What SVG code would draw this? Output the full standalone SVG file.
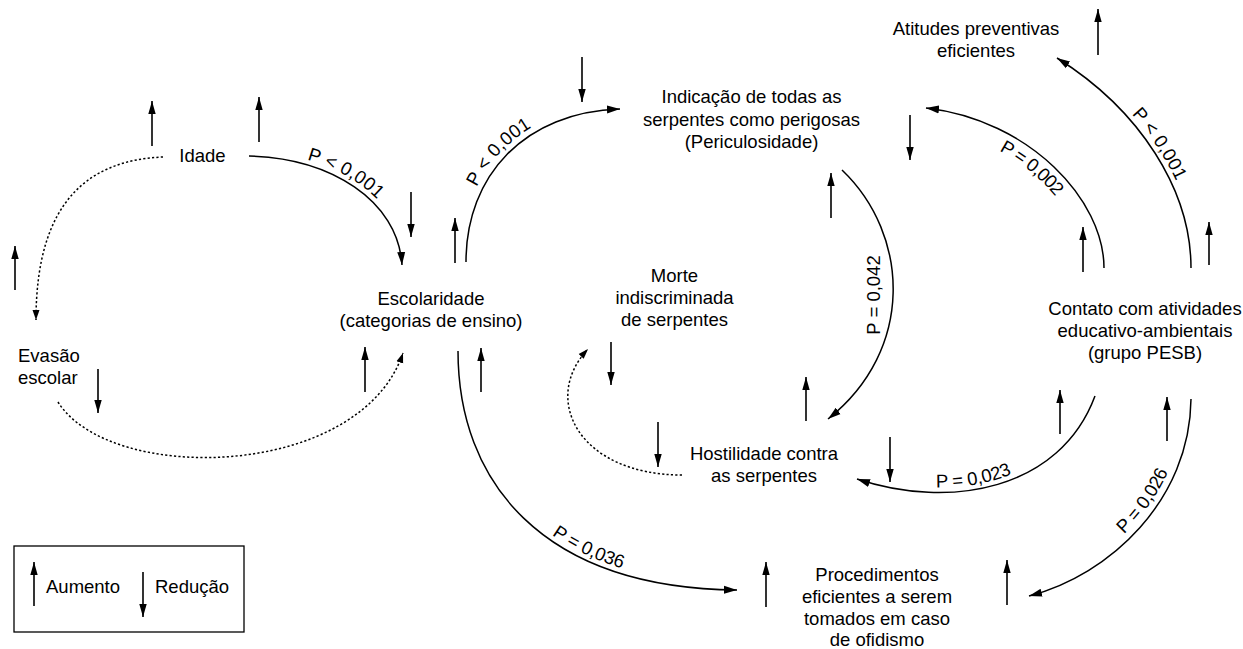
<svg xmlns="http://www.w3.org/2000/svg" width="1243" height="649" viewBox="0 0 1243 649">
<style>
text{font-family:"Liberation Sans",Arial,sans-serif;font-size:18.5px;fill:#000}
.c{fill:none;stroke:#000;stroke-width:1.5}
.d{fill:none;stroke:#000;stroke-width:1.5;stroke-dasharray:2.2 2.2}
.i{stroke:#000;stroke-width:1.6;marker-end:url(#ia)}
.m{text-anchor:middle}
</style>
<defs>
<marker id="ah" markerUnits="userSpaceOnUse" markerWidth="14" markerHeight="10" refX="13" refY="5" orient="auto"><path d="M0,1 L13,5 L0,9 z" fill="#000"/></marker>
<marker id="as" markerUnits="userSpaceOnUse" markerWidth="11" markerHeight="8" refX="10" refY="4" orient="auto"><path d="M0,0.5 L10,4 L0,7.5 z" fill="#000"/></marker>
<marker id="ia" markerUnits="userSpaceOnUse" markerWidth="14" markerHeight="10" refX="13" refY="5" orient="auto"><path d="M0,1.3 L13,5 L0,8.7 z" fill="#000"/></marker>
<path id="pA" d="M249,156 C 330,158 398,200 402,265"/>
<path id="pB" d="M466,262 C 466,175 525,112 620,109"/>
<path id="pE" d="M458,351 C 458,480 540,588 737,590"/>
<path id="pF" d="M842,170 C 910,235 915,350 828,419"/>
<path id="pG" d="M1104,268 C 1104,200 1030,120 926,108"/>
<path id="pH" d="M1191,268 C 1191,190 1140,110 1057,58"/>
<path id="pI" d="M1095,396 C 1060,490 950,510 857,479"/>
<path id="pJ" d="M1191,399 C 1190,500 1110,575 1029,596"/>
<path id="rG" d="M926,108 C 1030,120 1104,200 1104,268"/>
<path id="rH" d="M1057,58 C 1140,110 1191,190 1191,268"/>
<path id="rI" d="M857,479 C 950,510 1060,490 1095,396"/>
<path id="rJ" d="M1029,596 C 1110,575 1190,500 1191,399"/>
</defs>
<rect width="1243" height="649" fill="#fff"/>

<g id="connectors">
<use href="#pA" class="c" marker-end="url(#ah)"/>
<use href="#pB" class="c" marker-end="url(#ah)"/>
<use href="#pE" class="c" marker-end="url(#ah)"/>
<use href="#pF" class="c" marker-end="url(#ah)"/>
<use href="#pG" class="c" marker-end="url(#ah)"/>
<use href="#pH" class="c" marker-end="url(#ah)"/>
<use href="#pI" class="c" marker-end="url(#ah)"/>
<use href="#pJ" class="c" marker-end="url(#ah)"/>
<path class="d" d="M163,157 C 90,160 36,200 36,320" marker-end="url(#as)"/>
<path class="d" d="M58,402 C 110,485 360,480 403,353" marker-end="url(#as)"/>
<path class="d" d="M682,475 C 580,475 540,400 588,349" marker-end="url(#as)"/>
<text><textPath href="#pA" startOffset="47%" text-anchor="middle"><tspan dy="-5">P &lt; 0,001</tspan></textPath></text>
<text><textPath href="#pB" startOffset="47%" text-anchor="middle"><tspan dy="-6">P &lt; 0,001</tspan></textPath></text>
<text><textPath href="#pE" startOffset="62%" text-anchor="middle"><tspan dy="-5">P = 0,036</tspan></textPath></text>
<text class="m" transform="translate(880,295) rotate(-90)">P = 0,042</text>
<text><textPath href="#rG" startOffset="49%" text-anchor="middle"><tspan dy="19">P = 0,002</tspan></textPath></text>
<text><textPath href="#rH" startOffset="51%" text-anchor="middle"><tspan dy="-5">P &lt; 0,001</tspan></textPath></text>
<text><textPath href="#rI" startOffset="43%" text-anchor="middle"><tspan dy="-5">P = 0,023</tspan></textPath></text>
<text><textPath href="#rJ" startOffset="57%" text-anchor="middle"><tspan dy="-7">P = 0,026</tspan></textPath></text>
</g>

<g id="indicators">
<line class="i" x1="152" y1="146" x2="152" y2="101"/>
<line class="i" x1="259" y1="142" x2="259" y2="97"/>
<line class="i" x1="411" y1="192" x2="411" y2="237"/>
<line class="i" x1="455" y1="263" x2="455" y2="218"/>
<line class="i" x1="15" y1="290" x2="15" y2="246"/>
<line class="i" x1="98" y1="369" x2="98" y2="413"/>
<line class="i" x1="365" y1="392" x2="365" y2="347"/>
<line class="i" x1="582" y1="57" x2="582" y2="102"/>
<line class="i" x1="481" y1="392" x2="481" y2="348"/>
<line class="i" x1="831" y1="218" x2="831" y2="173"/>
<line class="i" x1="611" y1="342" x2="611" y2="385"/>
<line class="i" x1="806" y1="421" x2="806" y2="377"/>
<line class="i" x1="658" y1="422" x2="658" y2="467"/>
<line class="i" x1="910" y1="115" x2="910" y2="160"/>
<line class="i" x1="1098" y1="55" x2="1098" y2="9"/>
<line class="i" x1="1083" y1="272" x2="1083" y2="227"/>
<line class="i" x1="1209" y1="265" x2="1209" y2="222"/>
<line class="i" x1="1060" y1="434" x2="1060" y2="390"/>
<line class="i" x1="890" y1="437" x2="890" y2="482"/>
<line class="i" x1="1167" y1="441" x2="1167" y2="397"/>
<line class="i" x1="1007" y1="605" x2="1007" y2="560"/>
<line class="i" x1="766" y1="607" x2="766" y2="562"/>
</g>

<g id="idade"><text class="m" x="202.5" y="162">Idade</text></g>
<g id="evasao"><text x="18" y="362">Evasão</text><text x="18" y="384">escolar</text></g>
<g id="escolaridade"><text class="m" x="431" y="305">Escolaridade</text><text class="m" x="431" y="327">(categorias de ensino)</text></g>
<g id="morte"><text class="m" x="674.5" y="282">Morte</text><text class="m" x="674.5" y="304">indiscriminada</text><text class="m" x="674.5" y="326">de serpentes</text></g>
<g id="indicacao"><text class="m" x="751.5" y="103">Indicação de todas as</text><text class="m" x="751.5" y="125.5">serpentes como perigosas</text><text class="m" x="751.5" y="148">(Periculosidade)</text></g>
<g id="atitudes"><text class="m" x="976" y="35">Atitudes preventivas</text><text class="m" x="976" y="57">eficientes</text></g>
<g id="contato"><text class="m" x="1145" y="315">Contato com atividades</text><text class="m" x="1145" y="337">educativo-ambientais</text><text class="m" x="1145" y="359">(grupo PESB)</text></g>
<g id="hostilidade"><text class="m" x="764" y="460">Hostilidade contra</text><text class="m" x="764" y="482">as serpentes</text></g>
<g id="procedimentos"><text class="m" x="877" y="581">Procedimentos</text><text class="m" x="877" y="603">eficientes a serem</text><text class="m" x="877" y="625">tomados em caso</text><text class="m" x="877" y="646">de ofidismo</text></g>

<g id="legend">
<rect x="14" y="546" width="230" height="86" fill="none" stroke="#000" stroke-width="1.3"/>
<line class="i" x1="34" y1="606" x2="34" y2="562"/>
<text x="46" y="593">Aumento</text>
<line class="i" x1="143" y1="572" x2="143" y2="617"/>
<text x="155" y="593">Redução</text>
</g>
</svg>
